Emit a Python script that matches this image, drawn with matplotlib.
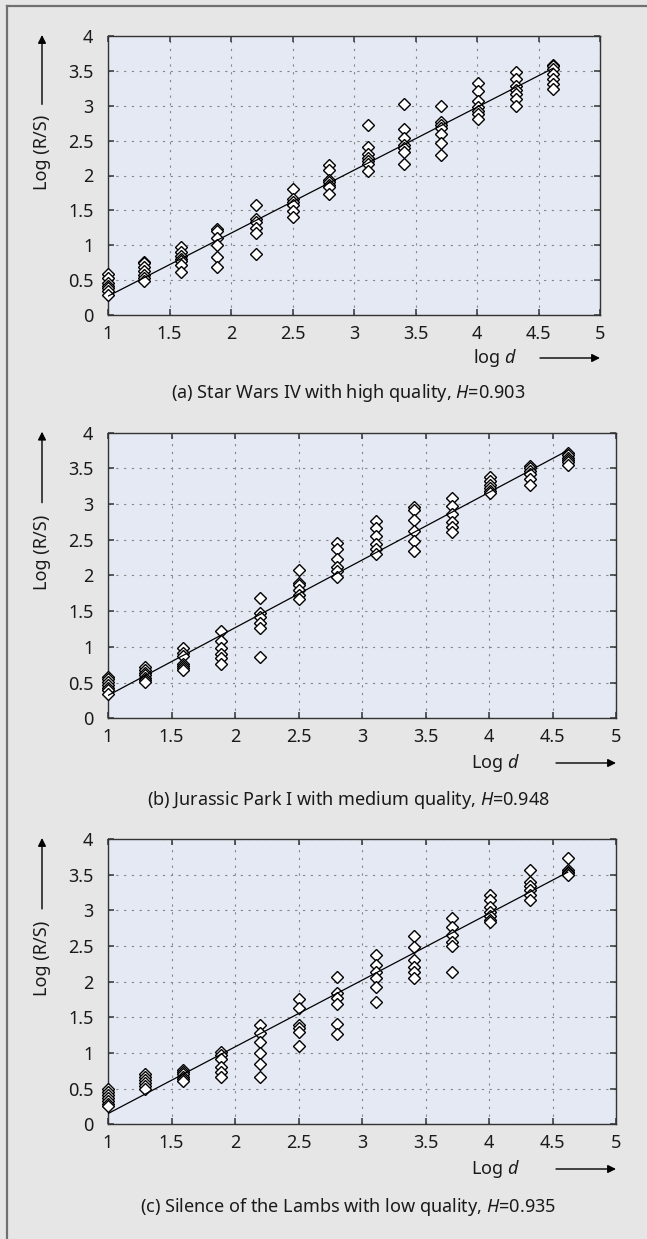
import numpy as np
import matplotlib.pyplot as plt
from matplotlib.lines import Line2D

plt.rcParams['font.family'] = ['Noto Sans', 'DejaVu Sans']
plt.rcParams['mathtext.fontset'] = 'custom'
plt.rcParams['mathtext.rm'] = 'Noto Sans'
plt.rcParams['mathtext.it'] = 'Noto Sans:italic'

# aggregation levels (log d), shared by all three traces
log_d = [1.0, 1.29, 1.59, 1.89, 2.20, 2.50, 2.80, 3.11, 3.41, 3.71, 4.01, 4.32, 4.62]

# log(R/S) samples per aggregation level
rs_starwars = [
    [0.59, 0.53, 0.46, 0.42, 0.38, 0.34, 0.29],
    [0.76, 0.74, 0.69, 0.63, 0.58, 0.53, 0.49],
    [0.97, 0.91, 0.85, 0.80, 0.77, 0.72, 0.61],
    [1.23, 1.20, 1.10, 1.00, 0.83, 0.69],
    [1.57, 1.38, 1.33, 1.25, 1.18, 0.88],
    [1.81, 1.66, 1.62, 1.57, 1.49, 1.41],
    [2.15, 2.08, 1.93, 1.90, 1.87, 1.84, 1.74],
    [2.72, 2.41, 2.31, 2.25, 2.21, 2.17, 2.07],
    [3.02, 2.67, 2.54, 2.44, 2.40, 2.33, 2.17],
    [3.00, 2.76, 2.72, 2.68, 2.59, 2.46, 2.29],
    [3.32, 3.21, 3.07, 2.98, 2.93, 2.88, 2.81],
    [3.48, 3.38, 3.28, 3.23, 3.17, 3.09, 2.99],
    [3.59, 3.57, 3.53, 3.46, 3.38, 3.31, 3.24],
]
rs_jurassic = [
    [0.58, 0.55, 0.51, 0.47, 0.43, 0.40, 0.34],
    [0.72, 0.68, 0.63, 0.60, 0.57, 0.54, 0.51],
    [0.98, 0.92, 0.87, 0.76, 0.73, 0.70, 0.67],
    [1.22, 1.08, 0.99, 0.90, 0.84, 0.76],
    [1.68, 1.47, 1.42, 1.34, 1.27, 0.86],
    [2.08, 1.89, 1.86, 1.80, 1.73, 1.67],
    [2.45, 2.37, 2.23, 2.12, 2.06, 1.98],
    [2.77, 2.66, 2.55, 2.44, 2.37, 2.30],
    [2.96, 2.92, 2.78, 2.63, 2.49, 2.35],
    [3.08, 2.97, 2.86, 2.75, 2.68, 2.61],
    [3.38, 3.32, 3.27, 3.23, 3.19, 3.15],
    [3.54, 3.51, 3.47, 3.42, 3.35, 3.27],
    [3.72, 3.69, 3.65, 3.62, 3.59, 3.55],
]
rs_lambs = [
    [0.50, 0.45, 0.41, 0.37, 0.33, 0.29, 0.25],
    [0.71, 0.67, 0.62, 0.58, 0.54, 0.50],
    [0.76, 0.73, 0.70, 0.67, 0.64, 0.61],
    [1.01, 0.97, 0.92, 0.81, 0.74, 0.67],
    [1.39, 1.28, 1.16, 1.00, 0.84, 0.67],
    [1.75, 1.63, 1.39, 1.35, 1.30, 1.10],
    [2.06, 1.84, 1.77, 1.68, 1.41, 1.27],
    [2.37, 2.23, 2.14, 2.05, 1.92, 1.71],
    [2.64, 2.49, 2.31, 2.21, 2.13, 2.05],
    [2.89, 2.77, 2.66, 2.56, 2.50, 2.14],
    [3.22, 3.15, 3.05, 2.98, 2.92, 2.86, 2.84],
    [3.57, 3.40, 3.34, 3.28, 3.22, 3.15],
    [3.73, 3.56, 3.54, 3.52, 3.50],
]

# fitted slope (Hurst parameter) and fitted value at log d = 1
hurst = [0.903, 0.948, 0.935]
fit_start = [0.27, 0.32, 0.15]

captions = ['(a) Star Wars IV with high quality, $\\it{H}$=0.903',
            '(b) Jurassic Park I with medium quality, $\\it{H}$=0.948',
            '(c) Silence of the Lambs with low quality, $\\it{H}$=0.935']
xlabels = ['log $\\it{d}$', 'Log $\\it{d}$', 'Log $\\it{d}$']
ylabel = 'Log (R/S)'

xticks = [1, 1.5, 2, 2.5, 3, 3.5, 4, 4.5, 5]
xtick_labels = ['1', '1.5', '2', '2.5', '3', '3.5', '4', '4.5', '5']
yticks = [0, 0.5, 1, 1.5, 2, 2.5, 3, 3.5, 4]
ytick_labels = ['0', '0.5', '1', '1.5', '2', '2.5', '3', '3.5', '4']

W, H = 647, 1239
fig = plt.figure(figsize=(W / 100, H / 100), dpi=100, facecolor='#e6e6e6')

def fx(px):
    return px / W

def fy(py):
    return 1 - py / H

# panel boxes in pixels: left, top, right, bottom
boxes = [(108, 36, 600, 315), (108, 432.7, 616, 718.3), (108, 839, 616, 1124.3)]
xlabel_y = [358, 763, 1169]
caption_y = [393, 800, 1207]
txt = '#1a1a1a'
fs = 13

for i, rs in enumerate([rs_starwars, rs_jurassic, rs_lambs]):
    l, t, r, b = boxes[i]
    ax = fig.add_axes([fx(l), fy(b), (r - l) / W, (b - t) / H])
    ax.set_facecolor('#e5e9f4')

    xs = np.concatenate([[x] * len(col) for x, col in zip(log_d, rs)])
    ys = np.concatenate(rs)
    ax.plot(xs, ys, 'D', ms=6, mfc='white', mec='black', mew=1.0, ls='none',
            zorder=3, clip_on=False)

    lx = np.array([log_d[0], log_d[-1]])
    ax.plot(lx, fit_start[i] + hurst[i] * (lx - log_d[0]), color='black', lw=0.9, zorder=4)

    ax.set_xlim(1, 5)
    ax.set_ylim(0, 4)
    ax.set_xticks(xticks)
    ax.set_xticklabels(xtick_labels)
    ax.set_yticks(yticks)
    ax.set_yticklabels(ytick_labels)
    ax.tick_params(direction='in', top=True, right=True, length=4, width=1.1,
                   labelsize=fs, colors='#333333', labelcolor=txt)
    ax.tick_params(axis='x', pad=7)
    ax.tick_params(axis='y', pad=10.5)
    ax.grid(True, color='#858585', ls=(0, (2, 5)), lw=0.8)
    ax.set_axisbelow(True)
    for s in ax.spines.values():
        s.set_color('#333333')
        s.set_linewidth(1.0)

    # y label with upward arrow
    ax_h = b - t
    fig.text(fx(42), fy(t + ax_h * (4 - 2.33) / 4), ylabel, rotation=90,
             ha='center', va='center', fontsize=fs, color=txt)
    ax.annotate('', xy=(fx(42), fy(t - 1)), xytext=(fx(42), fy(t + ax_h * 0.98 / 4)),
                xycoords='figure fraction', textcoords='figure fraction',
                arrowprops=dict(arrowstyle='-|>', mutation_scale=12, lw=1.0,
                                color='black', shrinkA=0, shrinkB=0))

    # x label with rightward arrow
    fig.text(fx(495), fy(xlabel_y[i]), xlabels[i], ha='center', va='center',
             fontsize=fs, color=txt)
    ax.annotate('', xy=(fx(r), fy(xlabel_y[i])), xytext=(fx(r - 60), fy(xlabel_y[i])),
                xycoords='figure fraction', textcoords='figure fraction',
                arrowprops=dict(arrowstyle='-|>', mutation_scale=12, lw=1.0,
                                color='black', shrinkA=0, shrinkB=0))

    fig.text(fx(348), fy(caption_y[i]), captions[i], ha='center', va='center',
             fontsize=fs, color=txt)

# box frame along top and left edge
fig.add_artist(Line2D([fx(7), fx(7)], [0, fy(6)], color='#707070', lw=1.6,
                      transform=fig.transFigure))
fig.add_artist(Line2D([fx(7), 1], [fy(6), fy(6)], color='#707070', lw=1.6,
                      transform=fig.transFigure))

fig.savefig('out.png', dpi=100, facecolor=fig.get_facecolor())
